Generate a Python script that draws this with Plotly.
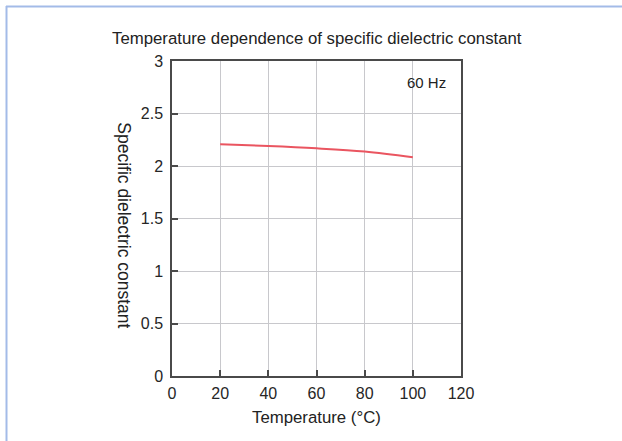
import plotly.graph_objects as go

temps = [20, 40, 60, 80, 100]
dielectric = [2.206, 2.19, 2.168, 2.137, 2.083]
x_ticks = [0, 20, 40, 60, 80, 100, 120]
y_ticks = [0, 0.5, 1, 1.5, 2, 2.5, 3]
y_tick_labels = ["0", "0.5", "1", "1.5", "2", "2.5", "3"]

FONT = "Liberation Sans, Arial, Helvetica, sans-serif"
W, H = 622, 441
L, R, T, B = 172, 461, 61, 376.5

def px_x(px):
    return (px - L) / (R - L)

def px_y(py):
    return (B - py) / (B - T)

fig = go.Figure()
fig.add_trace(go.Scatter(
    x=temps, y=dielectric, mode="lines",
    line=dict(color="#ea5560", width=2, shape="spline"),
    hoverinfo="skip", showlegend=False,
))

axis_common = dict(
    showgrid=True, gridcolor="#c8c8cc", gridwidth=1,
    showline=True, linecolor="#4a4a4a", linewidth=1.5, mirror=True,
    ticks="inside", ticklen=6, tickcolor="#4a4a4a", tickwidth=1.5,
    zeroline=False, fixedrange=True,
    tickfont=dict(family=FONT, size=16, color="#262626"),
)

fig.update_layout(
    width=W, height=H,
    margin=dict(l=L, r=W - R, t=T, b=H - B, pad=0),
    paper_bgcolor="white", plot_bgcolor="white",
    xaxis=dict(range=[0, 120], tickvals=x_ticks, ticklabelstandoff=2, **axis_common),
    yaxis=dict(range=[0, 3], tickvals=y_ticks, ticktext=y_tick_labels,
               ticklabelstandoff=4, **axis_common),
    font=dict(family=FONT, color="#262626"),
    annotations=[
        dict(text="Temperature dependence of specific dielectric constant",
             xref="paper", yref="paper", x=px_x(317), y=px_y(38),
             xanchor="center", yanchor="middle", showarrow=False,
             font=dict(family=FONT, size=16.8, color="#222222")),
        dict(text="Temperature (°C)", xref="paper", yref="paper",
             x=px_x(316), y=px_y(418), xanchor="center", yanchor="middle",
             showarrow=False, font=dict(family=FONT, size=16.8, color="#222222")),
        dict(text="Specific dielectric constant", xref="paper", yref="paper",
             x=px_x(124), y=px_y(225.5), xanchor="center", yanchor="middle",
             textangle=90, showarrow=False,
             font=dict(family=FONT, size=17.5, color="#222222")),
        dict(text="60 Hz", xref="x", yref="y", x=105.5, y=2.80,
             xanchor="center", yanchor="middle", showarrow=False,
             font=dict(family=FONT, size=15, color="#222222")),
    ],
    shapes=[
        dict(type="line", xref="paper", yref="paper",
             x0=px_x(6), x1=px_x(W + 2), y0=px_y(6.5), y1=px_y(6.5),
             line=dict(color="#a3bbe8", width=2)),
        dict(type="line", xref="paper", yref="paper",
             x0=px_x(6.5), x1=px_x(6.5), y0=px_y(6), y1=px_y(H + 2),
             line=dict(color="#a3bbe8", width=2)),
    ],
)

fig.write_html("out.html", config={"displayModeBar": False})
